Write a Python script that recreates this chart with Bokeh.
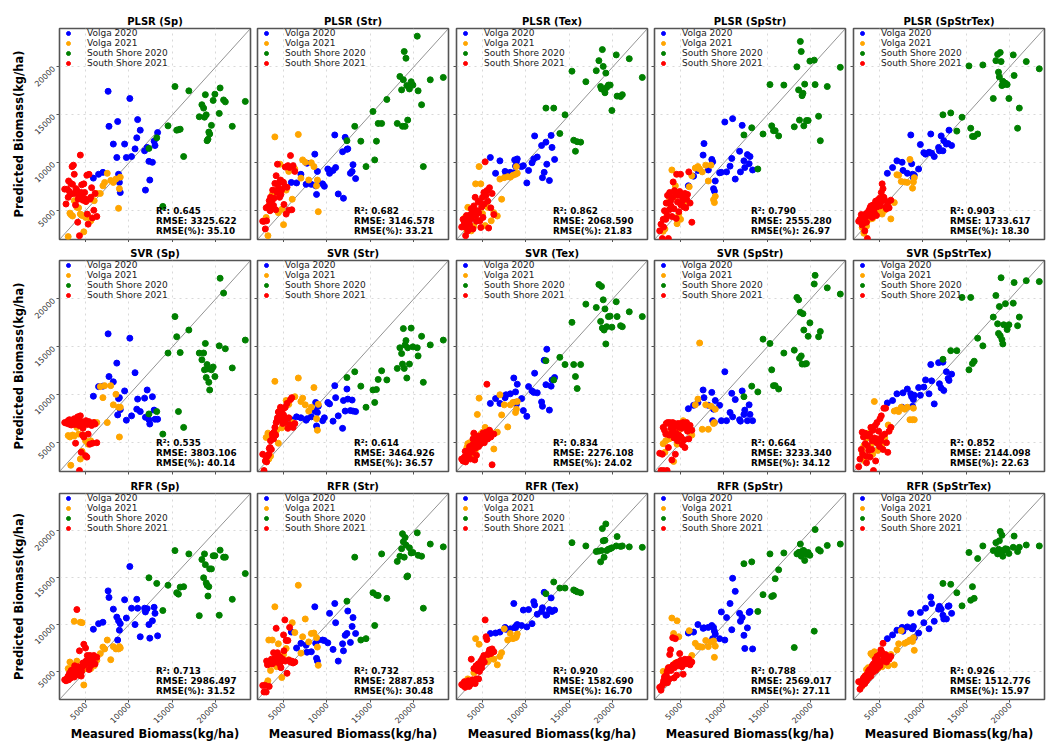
import math
from bokeh.plotting import figure
from bokeh.layouts import gridplot
from bokeh.models import FixedTicker, Legend, LegendItem, Label, Range1d
from bokeh.embed import file_html
from bokeh.resources import INLINE

# ---------------- data ----------------
axis_lim = [2000, 24000]
tick_values = [5000, 10000, 15000, 20000]
tick_labels = ["5000", "10000", "15000", "20000"]
models = ["PLSR", "SVR", "RFR"]
features = ["Sp", "Str", "Tex", "SpStr", "SpStrTex"]
series_names = ["Volga 2020", "Volga 2021", "South Shore 2020", "South Shore 2021"]
series_colors = ["blue", "orange", "green", "red"]

# measured biomass (kg/ha), same samples in every panel
volga2020_x = [5900, 6500, 7000, 7600, 7700, 8200, 8600, 8700, 8800, 8900, 9000, 9500, 9700, 10100, 10300,
               10700, 10900, 11000, 11300, 11800, 11900, 12100, 12300, 12400, 12700, 12900, 13000, 13300]
volga2021_x = [3000, 3200, 3300, 3500, 3700, 4000, 4200, 4400, 4600, 4800, 5000, 5300, 5600, 6000, 6300,
               6700, 7000, 7200, 7500, 7900, 8200, 8500, 8800, 8900, 9000]
ss2020_x = [12300, 13200, 13900, 14500, 15300, 15500, 15700, 15900, 16300, 16900, 18100, 18400, 18600, 18700,
            18800, 18900, 19000, 19100, 19200, 19300, 19500, 19700, 19900, 20400, 20500, 20900, 21100, 21900, 23400]
ss2021_x = [2600, 2750, 2900, 3000, 3050, 3150, 3300, 3350, 3450, 3500, 3600, 3700, 3750, 3850, 3900, 4000,
            4100, 4150, 4250, 4300, 4400, 4500, 4550, 4650, 4700, 4800, 4900, 5000, 5050, 5150, 5200, 5300,
            5400, 5500, 5600, 5700, 5800, 5950, 6100, 6300]

# metrics per model (rows) and feature set (columns)
r2_vals = [["0.645", "0.682", "0.862", "0.790", "0.903"],
           ["0.535", "0.614", "0.834", "0.664", "0.852"],
           ["0.713", "0.732", "0.920", "0.788", "0.926"]]
rmse_vals = [["3325.622", "3146.578", "2068.590", "2555.280", "1733.617"],
             ["3803.106", "3464.926", "2276.108", "3233.340", "2144.098"],
             ["2986.497", "2887.853", "1582.690", "2569.017", "1512.776"]]
rmse_pct_vals = [["35.10", "33.21", "21.83", "26.97", "18.30"],
                 ["40.14", "36.57", "24.02", "34.12", "22.63"],
                 ["31.52", "30.48", "16.70", "27.11", "15.97"]]

# ---- predicted biomass: PLSR ----
plsr_sp_v20 = [8400, 8800, 9000, 17450, 13800, 11950, 10550, 14300, 8800, 7950, 6900, 11950, 10550, 16700, 10650, 11450, 12600, 14500, 13400, 11250, 7150, 11600, 10150, 8200, 10050, 12250, 11800, 13150]
plsr_sp_v21 = [2300, 4750, 4600, 4450, 6050, 5350, 5300, 4650, 4500, 2800, 4300, 4450, 3950, 6050, 6800, 6800, 7600, 7950, 8900, 8150, 7950, 8300, 5250, 7300, 8500]
plsr_sp_s20 = [11500, 12600, 5450, 13850, 17950, 13400, 13450, 13500, 10650, 17500, 14800, 16050, 15700, 14750, 17100, 15000, 12300, 12450, 13200, 13000, 13900, 16500, 17150, 15150, 17800, 16550, 16350, 13800, 16400]
plsr_sp_s21 = [7250, 5700, 7250, 6400, 8100, 7000, 7850, 6750, 9600, 7750, 9750, 8800, 6800, 5600, 7300, 7100, 3800, 6200, 6450, 2400, 10800, 6900, 7700, 6400, 6100, 7800, 6900, 6200, 5950, 8700, 4650, 3600, 8800, 6200, 6400, 7400, 4250, 5050, 6800, 4400]

plsr_str_v20 = [7950, 7900, 8800, 7750, 9950, 7750, 10900, 7600, 6700, 9100, 7950, 7800, 7550, 9350, 8900, 9200, 12900, 9500, 6750, 11150, 6300, 12650, 11400, 11450, 8900, 9100, 9800, 8350]
plsr_str_v21 = [4300, 2400, 5500, 6100, 6700, 12700, 7100, 4800, 9850, 5150, 3550, 7150, 9100, 6200, 9350, 12950, 8400, 10300, 10050, 8200, 10000, 9600, 7600, 8200, 4900]
plsr_str_s20 = [12300, 13800, 12250, 9600, 15350, 10300, 12250, 14100, 14100, 16600, 14100, 19000, 17600, 13800, 18650, 21600, 13800, 20900, 18050, 14450, 17700, 18450, 18100, 23200, 17500, 16050, 9600, 18650, 18900]
plsr_str_s21 = [3900, 3900, 3100, 5300, 3950, 5350, 5500, 6050, 5000, 6400, 5400, 6100, 7150, 5550, 6300, 7850, 5100, 8650, 6900, 9850, 7400, 7950, 6400, 8200, 6700, 7200, 8000, 7950, 5650, 7550, 9550, 4650, 7450, 9700, 5050, 9500, 10750, 5100, 9700, 9100]

plsr_tex_v20 = [10550, 8900, 10200, 9100, 8700, 9000, 8950, 10300, 9650, 10100, 10400, 9600, 9700, 7900, 9200, 10000, 10400, 12800, 10600, 11800, 8450, 9000, 12150, 9850, 8150, 12850, 11600, 10350]
plsr_tex_v21 = [4300, 2900, 5350, 3300, 2900, 3400, 7800, 4000, 9600, 7800, 4700, 3450, 5350, 3950, 4800, 4450, 8300, 6200, 8450, 8550, 8500, 8700, 8800, 9600, 8900]
plsr_tex_s20 = [15700, 15700, 13050, 15000, 19550, 12350, 11200, 12200, 12150, 18450, 19600, 20650, 17950, 17700, 21800, 20050, 17600, 17300, 19350, 17850, 18100, 18100, 15450, 21250, 16950, 16900, 17100, 20850, 18900]
plsr_tex_s21 = [3300, 4100, 3700, 3300, 2400, 4500, 2900, 4000, 3800, 3500, 4600, 5200, 4200, 5200, 3100, 5500, 4700, 6400, 4500, 3900, 5000, 5900, 4800, 6000, 3950, 3250, 5400, 6400, 4300, 6900, 5700, 10100, 6600, 7100, 6000, 3200, 7400, 5300, 6800, 4600]

plsr_spstr_v20 = [7600, 8600, 9200, 10800, 12000, 9250, 10350, 10100, 7300, 7050, 8100, 8950, 9000, 14250, 9050, 9650, 10450, 14600, 8300, 11200, 9050, 13900, 10200, 9500, 10850, 9900, 10650, 9250]
plsr_spstr_v21 = [2850, 3100, 4900, 5800, 6400, 9250, 6400, 7600, 3650, 4650, 4100, 5500, 6050, 7500, 8650, 9450, 9600, 9350, 9050, 9750, 8100, 9750, 6150, 5850, 6500]
plsr_spstr_s20 = [12900, 13650, 9350, 13000, 18150, 13850, 13350, 13350, 12800, 18100, 13750, 20000, 17600, 14450, 22650, 21600, 17000, 17250, 13850, 18200, 14400, 14400, 20600, 20700, 18150, 14850, 12300, 17950, 19950]
plsr_spstr_s21 = [2900, 3600, 2100, 4100, 3300, 5000, 4100, 5800, 4500, 6600, 2100, 5100, 6900, 6000, 5500, 4400, 6400, 8000, 5200, 7100, 6900, 4200, 8800, 5900, 6600, 4900, 7000, 8800, 5600, 6500, 6000, 6700, 5400, 6800, 5300, 6200, 6700, 9050, 5800, 3800]

plsr_spstrtex_v20 = [8900, 9500, 10200, 10050, 9200, 8900, 12900, 9900, 8800, 8450, 8700, 9350, 11900, 11050, 10900, 11100, 13000, 11000, 10650, 11600, 11250, 12800, 11250, 12300, 11950, 12000, 13400, 11800]
plsr_spstrtex_v21 = [3250, 2650, 3700, 3400, 4100, 4150, 4200, 4500, 4850, 4900, 5300, 4650, 5050, 5350, 4150, 5850, 8750, 8700, 8050, 8000, 7950, 10350, 7350, 8000, 8450]
plsr_spstrtex_s20 = [15000, 15200, 13300, 14750, 20100, 13600, 12750, 12750, 13000, 20200, 16700, 20650, 21300, 19450, 18950, 21500, 20550, 18050, 18500, 18150, 18300, 18150, 16700, 21250, 19100, 13600, 15700, 20550, 19800]
plsr_spstrtex_s21 = [3900, 4100, 4600, 3500, 4400, 3700, 2900, 4300, 4700, 3800, 2100, 4500, 5000, 4900, 5300, 5500, 5200, 4300, 5600, 5100, 4800, 5700, 6000, 4500, 5400, 6100, 5800, 6300, 5500, 5900, 6900, 7800, 7300, 6400, 6100, 5400, 5200, 5800, 5300, 6100]

# ---- predicted biomass: SVR ----
svr_sp_v20 = [9850, 10850, 10900, 16350, 11900, 11350, 13300, 7900, 9600, 9700, 8450, 10400, 7350, 15900, 7800, 12300, 8500, 9550, 8250, 9650, 7650, 10500, 7400, 6950, 9800, 8400, 7450, 7450]
svr_sp_v21 = [5750, 5600, 2650, 5800, 5700, 6600, 5900, 3300, 4100, 5750, 5200, 4850, 5200, 7100, 7100, 10850, 9700, 10950, 7100, 10950, 8950, 10050, 8700, 5600, 8700]
svr_sp_s20 = [8000, 8250, 5900, 14350, 18150, 16050, 8250, 14400, 6600, 16750, 14350, 13650, 14350, 12600, 15350, 11800, 13150, 12700, 11300, 10500, 12600, 12900, 11900, 15100, 22150, 20600, 14800, 12800, 15700]
svr_sp_s21 = [7100, 7050, 7150, 7300, 6950, 7400, 7200, 6850, 7350, 7100, 7000, 7500, 6900, 4950, 7200, 7000, 7700, 7300, 6800, 2100, 7800, 4000, 7200, 5800, 6500, 5600, 7100, 3650, 7300, 3500, 6900, 5900, 7200, 4850, 7000, 6800, 4950, 7100, 6950, 5000]

svr_str_v20 = [7400, 7700, 7600, 7350, 7500, 7700, 8300, 9200, 6750, 8150, 8800, 7300, 7600, 9200, 9050, 7250, 10950, 9700, 7800, 6500, 9400, 8300, 10600, 9550, 8350, 9450, 8300, 8250]
svr_str_v21 = [5550, 6000, 3300, 3600, 5550, 11400, 6300, 4950, 8450, 6550, 7750, 9400, 9000, 7100, 9800, 11750, 9300, 9650, 8950, 8300, 8700, 10750, 7500, 6300, 9000]
svr_str_s20 = [11800, 12400, 10900, 8700, 10500, 9200, 10550, 11600, 12500, 11550, 12750, 14900, 14300, 13200, 16900, 12750, 15200, 15650, 11750, 14900, 13200, 16950, 15000, 14900, 14050, 16100, 11300, 15200, 15700]
svr_str_s21 = [3800, 2100, 3100, 3500, 3000, 3600, 3800, 4400, 4500, 5200, 4300, 5900, 5600, 5400, 6100, 6600, 5800, 7100, 7300, 7600, 8200, 7400, 7800, 8700, 7500, 8300, 7000, 7900, 8600, 7100, 8700, 7500, 9100, 6500, 7600, 6900, 9500, 9700, 6600, 7000]

svr_tex_v20 = [9100, 9600, 9100, 9700, 10000, 10100, 11750, 9200, 10300, 9000, 11100, 9600, 8350, 7750, 10850, 10400, 10250, 12250, 10200, 9250, 8800, 13600, 11050, 14750, 8400, 10900, 11550, 11800]
svr_tex_v21 = [3450, 4500, 4900, 5000, 3800, 5900, 4300, 7950, 9650, 5900, 6100, 6600, 6300, 6050, 4350, 6100, 10000, 7900, 8950, 6650, 8950, 9200, 8150, 8500, 9300]
svr_tex_s20 = [13550, 11550, 13900, 13150, 17550, 13150, 11900, 10650, 13150, 19450, 19100, 21500, 17650, 21300, 16950, 19900, 16750, 18950, 15300, 17100, 18150, 18200, 17050, 19700, 18150, 17200, 17100, 18650, 18150]
svr_tex_s21 = [3300, 3100, 3500, 4100, 3000, 3700, 3400, 4200, 3900, 4600, 3300, 4400, 4000, 4800, 5400, 6000, 3200, 4400, 4900, 3700, 5200, 5700, 4600, 5100, 5400, 4900, 5300, 5100, 6000, 5500, 5000, 5700, 6100, 11100, 5400, 5800, 6300, 5600, 2700, 5900]

svr_spstr_v20 = [8550, 8900, 9200, 10500, 9700, 8900, 10250, 7300, 8500, 7100, 9400, 8900, 7300, 12400, 7300, 8150, 10150, 7700, 9500, 7400, 7250, 10400, 7950, 8400, 7300, 8950, 7950, 7300]
svr_spstr_v21 = [4900, 4000, 5200, 5900, 5400, 6300, 3050, 5900, 4850, 6300, 5300, 7300, 7000, 6600, 5800, 8950, 9550, 15400, 6400, 8950, 6400, 8800, 7000, 7100, 8500]
svr_spstr_s20 = [9800, 10900, 10300, 15800, 15350, 12600, 10950, 10950, 10600, 14350, 14650, 20150, 19900, 13800, 18600, 14050, 13200, 18450, 16750, 13200, 13250, 16100, 17500, 21550, 22450, 16050, 16600, 21150, 20500]
svr_spstr_s21 = [3900, 2100, 3800, 6600, 2100, 6300, 5900, 7000, 2100, 7100, 4500, 5800, 7100, 5900, 6500, 3200, 7100, 6200, 5500, 7000, 3800, 6000, 6700, 5200, 7000, 5800, 6600, 7000, 5600, 6500, 4800, 7100, 5300, 4500, 6700, 7100, 6200, 5400, 6800, 6300]

svr_spstrtex_v20 = [9150, 9400, 10100, 8700, 10200, 10600, 10100, 9800, 8800, 9500, 9950, 10750, 9950, 10800, 11550, 10100, 13150, 11450, 9050, 13350, 11150, 10700, 13400, 10450, 12400, 11700, 11500, 12150]
svr_spstrtex_v21 = [4100, 4700, 3100, 5450, 6000, 4650, 3800, 9300, 5400, 4200, 5000, 4850, 5500, 6850, 6600, 8300, 8400, 8250, 8700, 8500, 8700, 7400, 7400, 8600, 7400]
svr_spstrtex_s20 = [13700, 14600, 14600, 20150, 12600, 20150, 13250, 13500, 15900, 15100, 18100, 20350, 17400, 16400, 19200, 16150, 22200, 15750, 15300, 17300, 19500, 16800, 17300, 19550, 21700, 17200, 18100, 21900, 21800]
svr_spstrtex_s21 = [2500, 3300, 4300, 6100, 3800, 5600, 6000, 4900, 3600, 2900, 4700, 5700, 4200, 5900, 3500, 6600, 4300, 5200, 6300, 2100, 5500, 6800, 3100, 5000, 7100, 5400, 6200, 4600, 7500, 5200, 7800, 5700, 4300, 8600, 5900, 8600, 5000, 4000, 6200, 6600]

# ---- predicted biomass: RFR ----
rfr_sp_v20 = [9500, 10100, 10250, 13600, 12900, 11650, 10800, 8350, 10400, 9400, 10100, 12650, 10700, 16200, 11750, 10000, 12700, 11750, 8700, 11750, 11350, 11700, 10000, 8550, 10400, 11850, 11200, 8800]
rfr_sp_v21 = [5300, 6000, 5000, 5700, 10350, 6100, 4950, 10250, 10200, 3550, 5300, 5800, 5300, 5600, 6200, 6900, 7600, 7400, 8350, 6250, 7650, 7400, 7400, 7650, 7500]
rfr_sp_s20 = [15000, 14400, 11500, 14200, 17900, 13400, 13250, 14000, 14050, 17550, 10950, 16950, 15000, 17550, 16400, 14450, 14200, 13050, 14050, 15950, 15950, 17350, 17350, 11000, 17950, 17200, 17200, 12700, 15450]
rfr_sp_s21 = [4100, 4000, 4300, 4500, 4100, 4800, 4300, 5100, 4600, 4800, 5200, 4400, 5600, 5000, 4700, 11600, 5200, 5500, 4600, 7200, 5400, 4500, 5000, 5500, 5900, 7900, 5700, 7500, 6100, 5900, 6700, 6200, 5200, 6700, 5600, 6600, 6200, 6700, 5800, 6500]

rfr_str_v20 = [9200, 7500, 8000, 7800, 7050, 7100, 11900, 8000, 6400, 6100, 8350, 8350, 8300, 8050, 11200, 7350, 12250, 10200, 6100, 7950, 7200, 8850, 9050, 11450, 8100, 9800, 10750, 9050]
rfr_str_v21 = [3650, 4000, 8350, 5100, 8350, 11900, 5500, 7950, 5600, 4350, 6800, 7450, 6250, 10200, 9150, 14200, 6950, 8700, 10600, 8150, 9050, 9100, 8600, 7600, 5650]
rfr_str_s20 = [12500, 17200, 8350, 8500, 13400, 9900, 13150, 13100, 17550, 12800, 16750, 17300, 18100, 19700, 18850, 17200, 19300, 18500, 15100, 15200, 18200, 17650, 17700, 19800, 17400, 17300, 11750, 18600, 18300]
rfr_str_s21 = [3500, 2800, 3500, 2800, 6100, 5700, 6000, 3400, 5900, 5900, 6300, 5800, 6200, 7000, 6000, 6400, 6000, 9600, 6300, 7000, 6100, 6600, 5800, 6500, 5400, 6100, 6300, 8900, 7200, 10500, 6100, 8300, 4800, 8300, 6200, 9700, 6000, 6100, 5900, 6000]

rfr_tex_v20 = [9050, 9100, 9200, 9700, 9500, 9550, 12250, 9700, 9650, 9900, 10000, 9900, 11550, 9750, 11600, 10100, 12450, 12100, 11100, 11400, 11800, 13450, 11000, 11050, 11600, 12850, 11400, 11550]
rfr_tex_v21 = [3900, 4000, 4200, 4100, 4050, 4850, 8500, 5300, 7900, 5600, 5900, 6100, 6050, 6500, 6300, 5700, 6600, 7000, 9550, 8350, 9050, 8500, 8600, 8700, 9000]
rfr_tex_s20 = [13300, 14550, 13900, 13900, 18750, 13700, 13600, 13500, 13400, 18400, 17800, 17850, 16700, 17900, 20250, 18950, 17200, 19000, 20750, 17900, 18050, 18100, 18200, 18400, 19400, 18350, 18400, 18300, 18250]
rfr_tex_s21 = [3600, 3500, 3900, 3300, 3800, 3500, 3700, 4000, 3400, 3800, 3600, 6300, 3900, 4100, 3800, 5300, 4000, 3700, 5600, 4200, 5100, 5800, 4200, 5000, 5500, 6100, 5400, 6400, 5900, 6700, 6000, 10500, 8700, 8400, 6800, 7000, 7300, 6900, 7400, 7100]

rfr_spstr_v20 = [9100, 9200, 10000, 9600, 9650, 9700, 9900, 8500, 9700, 9300, 9000, 8500, 11350, 8350, 10750, 12250, 9450, 14950, 13550, 11200, 10350, 10750, 8850, 7450, 9650, 11300, 11400, 7400]
rfr_spstr_v21 = [5000, 3750, 4500, 5200, 5400, 10700, 9050, 5900, 10400, 8700, 5800, 6100, 6000, 9350, 6700, 8000, 7650, 7650, 7600, 8300, 7650, 8150, 8250, 6500, 7700]
rfr_spstr_s20 = [16500, 16700, 11400, 13200, 17550, 13000, 13100, 14900, 15850, 17650, 7550, 17550, 17700, 17700, 18600, 17300, 17650, 17900, 17900, 16850, 17500, 17700, 17400, 9300, 20150, 18000, 17850, 18450, 18600]
rfr_spstr_s21 = [3300, 3000, 3500, 3700, 4000, 4400, 3900, 4600, 5000, 3800, 5400, 4200, 6800, 7300, 5100, 5500, 8600, 5700, 4300, 5400, 8500, 5900, 4600, 5700, 6000, 5600, 6900, 5800, 6200, 5500, 5900, 4700, 6000, 6300, 5800, 6100, 5900, 6300, 5700, 6000]

rfr_spstrtex_v20 = [8500, 8900, 9400, 9700, 9300, 9750, 11200, 9600, 9550, 9800, 8600, 9100, 11300, 10200, 11750, 9550, 12950, 12250, 10350, 11650, 11950, 11650, 11000, 10600, 10600, 11950, 12000, 11200]
rfr_spstrtex_v21 = [3450, 4150, 4500, 5200, 5400, 6900, 6700, 7100, 5500, 5300, 5600, 5500, 5700, 5600, 6800, 5700, 7300, 7950, 9350, 8000, 8150, 8350, 8200, 8600, 7250]
rfr_spstrtex_s20 = [14400, 14300, 13400, 12000, 17700, 12600, 14050, 12800, 17050, 18400, 17900, 18750, 17550, 18050, 18950, 19950, 17900, 19550, 17300, 17900, 18100, 18050, 17600, 18250, 19450, 17800, 18250, 18500, 18400]
rfr_spstrtex_s21 = [3900, 3100, 3800, 3500, 4100, 4300, 3700, 4500, 4600, 4000, 4400, 5000, 4300, 5200, 4800, 4500, 5300, 5600, 4900, 5800, 5400, 6300, 5100, 5900, 6600, 5400, 6100, 6800, 5600, 7300, 6000, 7000, 8000, 6400, 6200, 6800, 6000, 6500, 6300, 6600]

measured = [volga2020_x, volga2021_x, ss2020_x, ss2021_x]
predicted = {
    ("PLSR", "Sp"): [plsr_sp_v20, plsr_sp_v21, plsr_sp_s20, plsr_sp_s21],
    ("PLSR", "Str"): [plsr_str_v20, plsr_str_v21, plsr_str_s20, plsr_str_s21],
    ("PLSR", "Tex"): [plsr_tex_v20, plsr_tex_v21, plsr_tex_s20, plsr_tex_s21],
    ("PLSR", "SpStr"): [plsr_spstr_v20, plsr_spstr_v21, plsr_spstr_s20, plsr_spstr_s21],
    ("PLSR", "SpStrTex"): [plsr_spstrtex_v20, plsr_spstrtex_v21, plsr_spstrtex_s20, plsr_spstrtex_s21],
    ("SVR", "Sp"): [svr_sp_v20, svr_sp_v21, svr_sp_s20, svr_sp_s21],
    ("SVR", "Str"): [svr_str_v20, svr_str_v21, svr_str_s20, svr_str_s21],
    ("SVR", "Tex"): [svr_tex_v20, svr_tex_v21, svr_tex_s20, svr_tex_s21],
    ("SVR", "SpStr"): [svr_spstr_v20, svr_spstr_v21, svr_spstr_s20, svr_spstr_s21],
    ("SVR", "SpStrTex"): [svr_spstrtex_v20, svr_spstrtex_v21, svr_spstrtex_s20, svr_spstrtex_s21],
    ("RFR", "Sp"): [rfr_sp_v20, rfr_sp_v21, rfr_sp_s20, rfr_sp_s21],
    ("RFR", "Str"): [rfr_str_v20, rfr_str_v21, rfr_str_s20, rfr_str_s21],
    ("RFR", "Tex"): [rfr_tex_v20, rfr_tex_v21, rfr_tex_s20, rfr_tex_s21],
    ("RFR", "SpStr"): [rfr_spstr_v20, rfr_spstr_v21, rfr_spstr_s20, rfr_spstr_s21],
    ("RFR", "SpStrTex"): [rfr_spstrtex_v20, rfr_spstrtex_v21, rfr_spstrtex_s20, rfr_spstrtex_s21],
}

# ---------------- layout ----------------
FRAME_W, FRAME_H = 191, 211
col_left = [59, 4, 4, 4, 4]
col_right = [3, 4, 3, 4, 4]
row_top = [28, 18, 18]
row_bottom = [3, 4, 40]
FONT = "DejaVu Sans"

rows = []
for r, model in enumerate(models):
    row = []
    for c, feat in enumerate(features):
        p = figure(width=col_left[c] + FRAME_W + col_right[c],
                   height=row_top[r] + FRAME_H + row_bottom[r],
                   x_range=Range1d(axis_lim[0], axis_lim[1]),
                   y_range=Range1d(axis_lim[0], axis_lim[1]),
                   output_backend="svg", toolbar_location=None,
                   min_border_left=col_left[c], min_border_right=col_right[c],
                   min_border_top=row_top[r], min_border_bottom=row_bottom[r],
                   title=f"{model} ({feat})")
        p.title.align = "center"
        p.title.text_font = FONT
        p.title.text_font_size = "10px"
        p.title.text_font_style = "bold"
        p.title.text_color = "black"
        p.title.standoff = 4
        p.outline_line_color = "#555555"
        p.outline_line_width = 1.6
        p.background_fill_color = "white"
        p.border_fill_color = "white"

        for ax in (p.xaxis[0], p.yaxis[0]):
            ax.ticker = FixedTicker(ticks=tick_values)
            ax.major_label_overrides = {v: s for v, s in zip(tick_values, tick_labels)}
            ax.axis_line_color = None
            ax.major_tick_in = 0
            ax.major_tick_out = 3
            ax.major_tick_line_color = "#555555"
            ax.minor_tick_line_color = None
            ax.major_label_orientation = math.pi / 4
            ax.major_label_text_font = FONT
            ax.major_label_text_font_size = "8px"
            ax.major_label_text_color = "#333333"
            ax.axis_label_text_font = FONT
            ax.axis_label_text_font_size = "11.5px"
            ax.axis_label_text_font_style = "bold"
            ax.axis_label_text_color = "black"

        if c == 0:
            p.yaxis.major_label_standoff = 3
            p.yaxis.axis_label = "Predicted Biomass(kg/ha)"
            p.yaxis.axis_label_standoff = 2
        else:
            p.yaxis.major_label_text_color = None
            p.yaxis.major_label_standoff = 0
        if r == len(models) - 1:
            p.xaxis.major_label_standoff = 1
            p.xaxis.axis_label = "Measured Biomass(kg/ha)"
            p.xaxis.axis_label_standoff = -2
        else:
            p.xaxis.major_label_text_color = None
            p.xaxis.major_label_standoff = 0

        for g in (p.xgrid[0], p.ygrid[0]):
            g.grid_line_color = "#cfcfcf"
            g.grid_line_dash = "dotted"
            g.grid_line_width = 0.8

        # 1:1 line
        p.line(axis_lim, axis_lim, line_color="#777777", line_width=0.8)

        items = []
        for name, col, xs, ys in zip(series_names, series_colors, measured, predicted[(model, feat)]):
            rend = p.scatter(xs, ys, size=6, fill_color=col, line_color=col)
            items.append(LegendItem(label=name, renderers=[rend]))
        legend = Legend(items=items, location="top_left", background_fill_alpha=0,
                        border_line_color=None, margin=0, padding=8, spacing=0,
                        glyph_height=10, glyph_width=18, label_height=10, label_standoff=10,
                        label_text_font=FONT, label_text_font_size="9px", label_text_color="#222222")
        p.add_layout(legend)

        text_x = axis_lim[0] + 0.505 * (axis_lim[1] - axis_lim[0])
        lines = [f"R\u00b2: {r2_vals[r][c]}", f"RMSE: {rmse_vals[r][c]}", f"RMSE(%): {rmse_pct_vals[r][c]}"]
        for k, t in enumerate(lines):
            p.add_layout(Label(x=text_x, y=axis_lim[0], text=t, y_offset=9 + 10 * (2 - k),
                               text_baseline="middle", text_align="left",
                               text_font=FONT, text_font_size="8.8px", text_font_style="bold",
                               text_color="black"))
        row.append(p)
    rows.append(row)

grid = gridplot(rows, toolbar_location=None)

open("out.html", "w").write(file_html(grid, INLINE))
